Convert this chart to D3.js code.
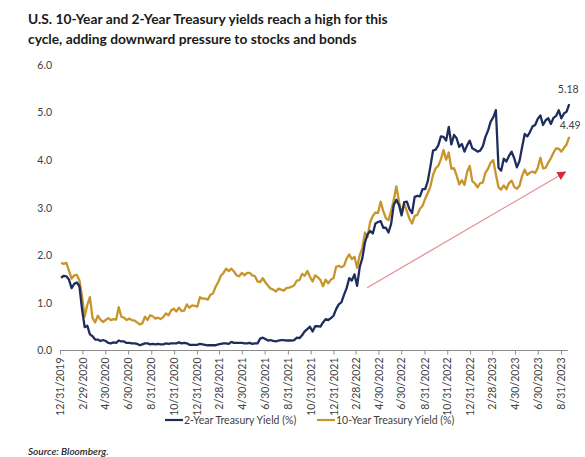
<!DOCTYPE html>
<html>
<head>
<meta charset="utf-8">
<script src="https://cdn.jsdelivr.net/npm/d3@7"></script>
<style>
  html, body { margin: 0; padding: 0; background: #fff; }
  svg { display: block; }
</style>
</head>
<body>
<svg id="chart" width="585" height="457"></svg>
<script>
// Weekly (Friday) Treasury yields, in percent, starting 1/3/2020
const firstWeek = "2020-01-03";

const twoYear = [
  // 2020
  1.53, 1.57, 1.56, 1.49, 1.31, 1.40, 1.43, 1.35, 0.86, 0.49, 0.52, 0.34, 0.30,
  0.23, 0.23, 0.20, 0.22, 0.20, 0.16, 0.15, 0.17, 0.16, 0.21, 0.19, 0.19, 0.16,
  0.16, 0.15, 0.15, 0.14, 0.11, 0.13, 0.15, 0.15, 0.13, 0.14, 0.13, 0.14, 0.13,
  0.13, 0.15, 0.14, 0.15, 0.15, 0.15, 0.17, 0.15, 0.16, 0.15, 0.12, 0.12, 0.12,
  // 2021
  0.12, 0.14, 0.13, 0.12, 0.11, 0.11, 0.11, 0.11, 0.13, 0.14, 0.15, 0.15, 0.14,
  0.18, 0.16, 0.16, 0.16, 0.16, 0.15, 0.15, 0.16, 0.14, 0.15, 0.15, 0.25, 0.27,
  0.24, 0.21, 0.22, 0.20, 0.19, 0.21, 0.22, 0.22, 0.21, 0.21, 0.21, 0.22, 0.27,
  0.26, 0.32, 0.40, 0.45, 0.50, 0.40, 0.51, 0.51, 0.50, 0.59, 0.66, 0.64, 0.68, 0.73,
  // 2022
  0.87, 0.97, 1.01, 1.17, 1.31, 1.52, 1.47, 1.60, 1.36, 1.75, 1.94, 2.27,
  2.44, 2.51, 2.46, 2.67, 2.70, 2.72, 2.58, 2.58, 2.48, 2.66, 3.06, 3.17, 3.06,
  2.84, 3.12, 3.13, 2.97, 2.89, 3.23, 3.25, 3.24, 3.39, 3.39, 3.56, 3.87, 4.20, 4.22,
  4.31, 4.50, 4.49, 4.41, 4.70, 4.33, 4.53, 4.46, 4.28, 4.34, 4.18, 4.31, 4.41,
  // 2023
  4.25, 4.22, 4.18, 4.20, 4.29, 4.49, 4.62, 4.81, 4.90, 5.05, 3.84, 3.78, 4.03,
  3.97, 4.09, 4.18, 4.04, 3.85, 3.98, 4.27, 4.55, 4.50, 4.59, 4.71, 4.74, 4.87,
  4.94, 4.74, 4.84, 4.88, 4.76, 4.89, 4.93, 5.05, 4.88, 4.98, 5.02, 5.18
];

const tenYear = [
  // 2020
  1.84, 1.82, 1.84, 1.68, 1.51, 1.58, 1.59, 1.47, 1.13, 0.71, 0.96, 1.12, 0.68,
  0.59, 0.73, 0.65, 0.60, 0.64, 0.68, 0.64, 0.66, 0.65, 0.91, 0.71, 0.69, 0.64,
  0.67, 0.64, 0.63, 0.59, 0.55, 0.57, 0.71, 0.64, 0.74, 0.72, 0.67, 0.69, 0.66,
  0.70, 0.78, 0.74, 0.84, 0.88, 0.82, 0.90, 0.83, 0.84, 0.97, 0.90, 0.95, 0.94,
  // 2021
  0.92, 1.12, 1.09, 1.09, 1.07, 1.17, 1.20, 1.34, 1.44, 1.57, 1.63, 1.72, 1.67,
  1.72, 1.66, 1.58, 1.56, 1.63, 1.58, 1.63, 1.63, 1.58, 1.56, 1.45, 1.44, 1.52,
  1.43, 1.36, 1.30, 1.28, 1.24, 1.30, 1.28, 1.26, 1.31, 1.32, 1.34, 1.37, 1.47,
  1.48, 1.61, 1.57, 1.67, 1.55, 1.45, 1.58, 1.54, 1.48, 1.35, 1.49, 1.41, 1.49, 1.52,
  // 2022
  1.76, 1.78, 1.75, 1.78, 1.93, 2.02, 1.92, 1.97, 1.74, 2.00, 2.15, 2.48,
  2.39, 2.70, 2.83, 2.90, 2.89, 3.13, 2.93, 2.78, 2.74, 2.94, 3.16, 3.45, 3.13,
  2.88, 3.08, 2.93, 2.77, 2.67, 2.83, 2.85, 2.98, 3.04, 3.19, 3.31, 3.45, 3.69, 3.83,
  3.88, 4.02, 4.21, 4.01, 4.16, 3.82, 3.83, 3.68, 3.49, 3.58, 3.48, 3.75, 3.88,
  // 2023
  3.56, 3.51, 3.43, 3.52, 3.53, 3.74, 3.82, 3.95, 4.00, 3.70, 3.43, 3.38, 3.47,
  3.39, 3.52, 3.57, 3.44, 3.40, 3.46, 3.67, 3.80, 3.69, 3.74, 3.76, 3.73, 3.84,
  4.05, 3.83, 3.84, 3.95, 4.04, 4.16, 4.25, 4.24, 4.18, 4.26, 4.33, 4.49
];

const xTickLabels = [
  "12/31/2019", "2/29/2020", "4/30/2020", "6/30/2020", "8/31/2020", "10/31/2020",
  "12/31/2020", "2/28/2021", "4/30/2021", "6/30/2021", "8/31/2021", "10/31/2021",
  "12/31/2021", "2/28/2022", "4/30/2022", "6/30/2022", "8/31/2022", "10/31/2022",
  "12/31/2022", "2/28/2023", "4/30/2023", "6/30/2023", "8/31/2023"
];

const yTicks = [0, 1, 2, 3, 4, 5, 6];

const seriesNames = ["2-Year Treasury Yield (%)", "10-Year Treasury Yield (%)"];
const endLabels = ["5.18", "4.49"];

const titleLines = [
  "U.S. 10-Year and 2-Year Treasury yields reach a high for this",
  "cycle, adding downward pressure to stocks and bonds"
];
const sourceNote = "Source: Bloomberg.";

// ---------------------------------------------------------------------------

const svg = d3.select("#chart");
const navy = "#1e2d5e";
const gold = "#c8952c";
const textGrey = "#404040";
const font = "Lato, 'Open Sans', sans-serif";

const parseDay = d3.timeParse("%m/%d/%Y");
const start = d3.timeParse("%Y-%m-%d")(firstWeek);
const weekDates = twoYear.map((_, i) => d3.timeWeek.offset(start, i));

const tickDates = xTickLabels.map(parseDay);

const x = d3.scaleTime()
  .domain([tickDates[0], tickDates[tickDates.length - 1]])
  .range([60, 561]);

const y = d3.scaleLinear().domain([0, 6]).range([350.5, 65]);

// Title
const title = svg.append("g").attr("font-family", font).attr("font-weight", 700)
  .attr("fill", "#1a1a1a");
const titleNodes = titleLines.map((t, i) =>
  title.append("text").attr("x", 28).attr("y", 23.5 + i * 20.5)
    .attr("font-size", 16).text(t));
// size the heading so the first line spans its intended width
const w0 = titleNodes[0].node().getComputedTextLength();
const fs = 16 * 360 / w0;
titleNodes.forEach(n => n.attr("font-size", fs));

// Y axis labels (no axis line)
const yAxis = d3.axisLeft(y).tickValues(yTicks).tickFormat(d3.format(".1f"))
  .tickSize(0).tickPadding(0);
const yg = svg.append("g").attr("transform", "translate(52,0)").call(yAxis);
yg.select(".domain").remove();
yg.selectAll("text").attr("font-family", font).attr("font-size", 10.5)
  .attr("fill", textGrey);

// X axis with rotated date labels
const xAxis = d3.axisBottom(x).tickValues(tickDates)
  .tickFormat((d, i) => xTickLabels[i]).tickSize(4).tickSizeOuter(0);
const xg = svg.append("g").attr("transform", "translate(0,350.5)").call(xAxis);
xg.select(".domain").attr("stroke", "#8c8c8c").attr("d", "M60,0H568");
xg.selectAll(".tick line").attr("stroke", "#8c8c8c");
xg.selectAll("text")
  .attr("font-family", font).attr("font-size", 10.5).attr("fill", textGrey)
  .attr("text-anchor", "end")
  .attr("transform", "rotate(-90)")
  .attr("x", -7).attr("y", 0).attr("dy", "0.35em");

// Lines
const line = vals => d3.line()
  .x((d, i) => x(weekDates[i]))
  .y(d => y(d))(vals);

svg.append("path").attr("d", line(tenYear)).attr("fill", "none")
  .attr("stroke", gold).attr("stroke-width", 2.3).attr("stroke-linejoin", "round");
svg.append("path").attr("d", line(twoYear)).attr("fill", "none")
  .attr("stroke", navy).attr("stroke-width", 2.3).attr("stroke-linejoin", "round");

// End-of-series value labels
const last = twoYear.length - 1;
svg.append("text").attr("x", x(weekDates[last]) - 1).attr("y", y(twoYear[last]) - 11)
  .attr("text-anchor", "middle").attr("font-family", font).attr("font-size", 10.5)
  .attr("fill", textGrey).text(endLabels[0]);
svg.append("text").attr("x", x(weekDates[last]) + 1).attr("y", y(tenYear[last]) - 8)
  .attr("text-anchor", "middle").attr("font-family", font).attr("font-size", 10.5)
  .attr("fill", textGrey).text(endLabels[1]);

// Trend arrow under the 2022-2023 climb
const defs = svg.append("defs");
defs.append("marker").attr("id", "arrowHead")
  .attr("viewBox", "0 0 10 10").attr("refX", 9).attr("refY", 5)
  .attr("markerWidth", 9).attr("markerHeight", 9).attr("markerUnits", "userSpaceOnUse")
  .attr("orient", "auto")
  .append("path").attr("d", "M0,0L10,5L0,10Z").attr("fill", "#d42b3a");
const arrowFrom = [parseDay("3/31/2022"), 1.32];
const arrowTo = [parseDay("9/12/2023"), 3.75];
svg.append("line")
  .attr("x1", x(arrowFrom[0])).attr("y1", y(arrowFrom[1]))
  .attr("x2", x(arrowTo[0])).attr("y2", y(arrowTo[1]))
  .attr("stroke", "#e68a8f").attr("stroke-width", 1.2)
  .attr("marker-end", "url(#arrowHead)");

// Legend
const legend = svg.append("g").attr("font-family", font).attr("font-size", 10.5)
  .attr("fill", textGrey);
[[165, navy], [317, gold]].forEach(([lx, c], i) => {
  legend.append("line").attr("x1", lx).attr("x2", lx + 18)
    .attr("y1", 420).attr("y2", 420).attr("stroke", c).attr("stroke-width", 2.2);
  legend.append("text").attr("x", lx + 19).attr("y", 420).attr("dy", "0.35em")
    .text(seriesNames[i]);
});

// Source note
svg.append("text").attr("x", 28).attr("y", 455)
  .attr("font-family", font).attr("font-size", 10).attr("font-style", "italic")
  .attr("font-weight", 600).attr("fill", "#262626").text(sourceNote);
</script>
</body>
</html>
